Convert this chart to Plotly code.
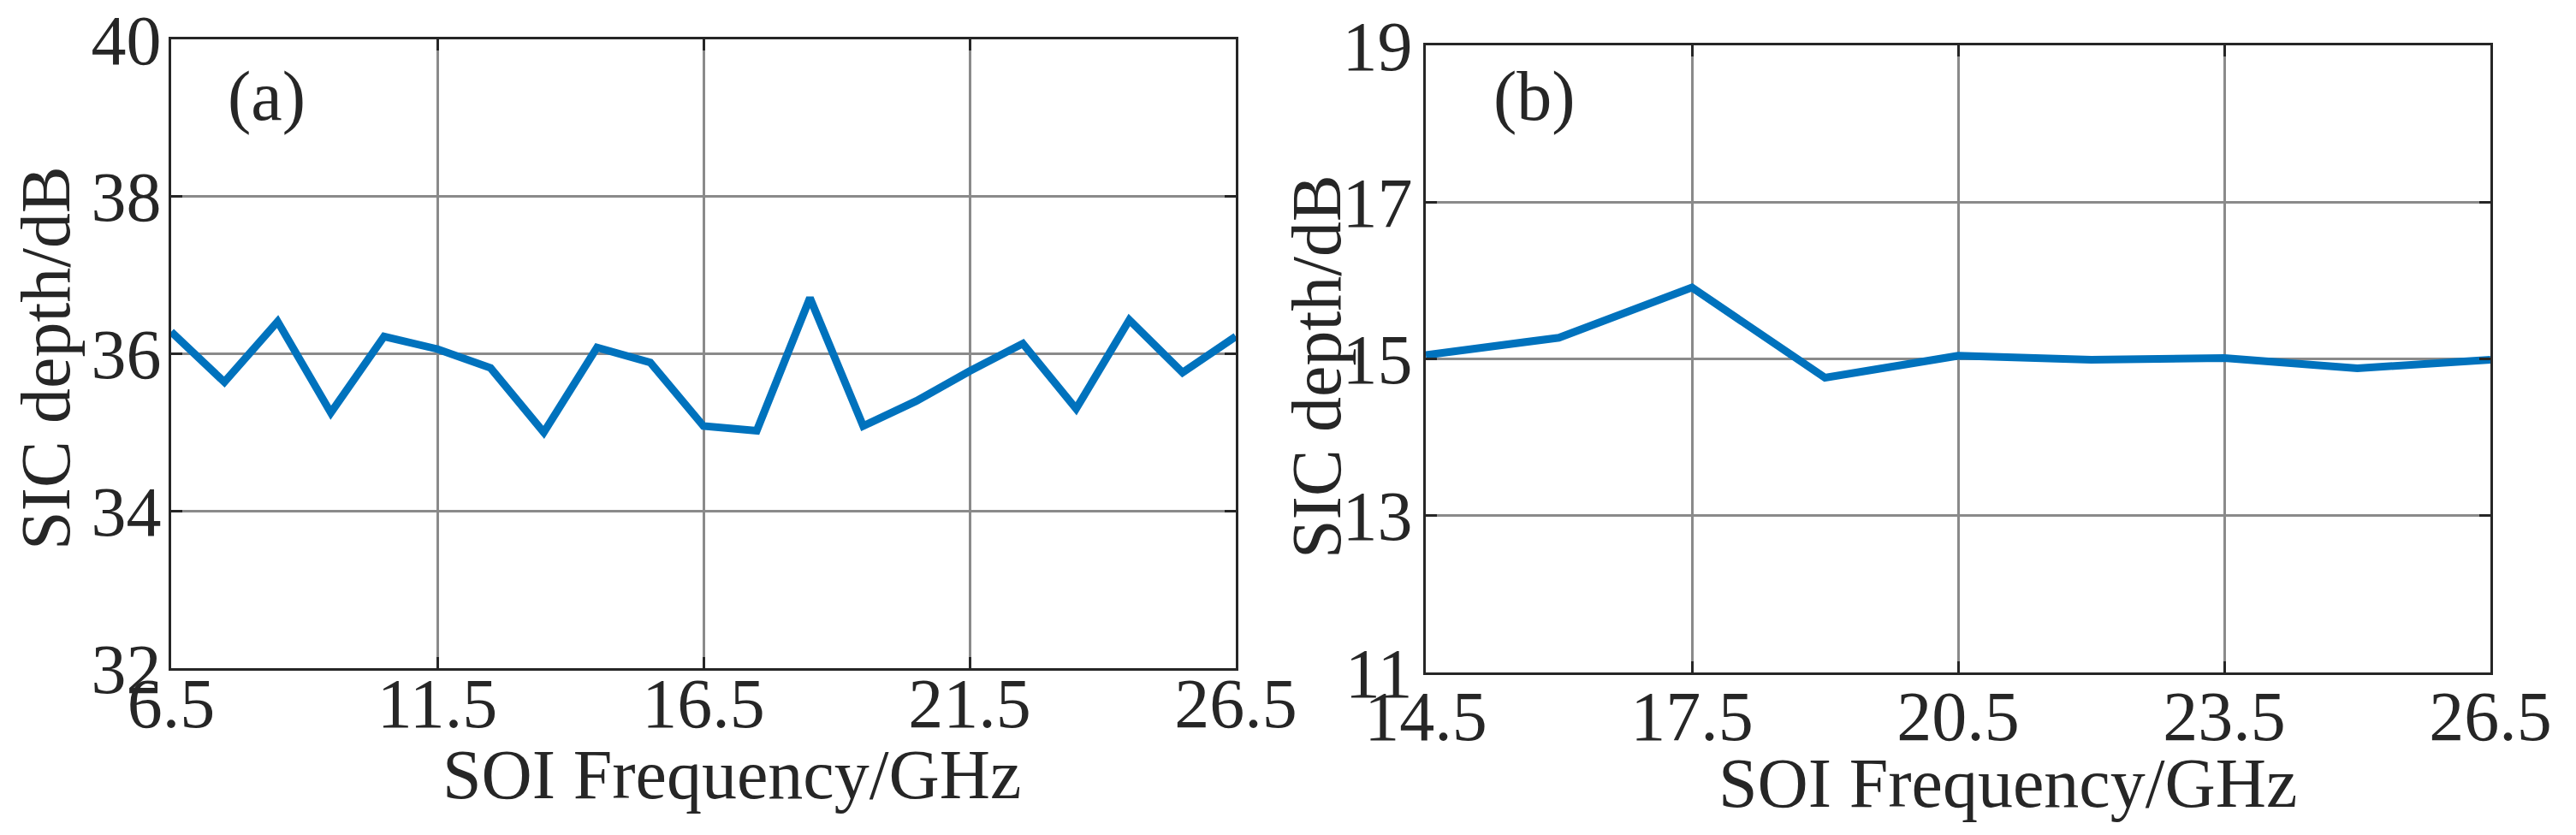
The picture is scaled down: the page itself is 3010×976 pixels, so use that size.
import plotly.graph_objects as go

# ---- data ----
freq_a = [6.5, 7.5, 8.5, 9.5, 10.5, 11.5, 12.5, 13.5, 14.5, 15.5, 16.5,
          17.5, 18.5, 19.5, 20.5, 21.5, 22.5, 23.5, 24.5, 25.5, 26.5]
sic_a = [36.28, 35.64, 36.41, 35.25, 36.22, 36.06, 35.82, 35.00, 36.08, 35.89, 35.08,
         35.02, 36.71, 35.08, 35.40, 35.78, 36.13, 35.30, 36.43, 35.76, 36.22]

freq_b = [14.5, 16.0, 17.5, 19.0, 20.5, 22.0, 23.5, 25.0, 26.5]
sic_b = [15.05, 15.27, 15.91, 14.76, 15.04, 14.99, 15.01, 14.88, 14.99]

xticks_a = [6.5, 11.5, 16.5, 21.5, 26.5]
xticks_b = [14.5, 17.5, 20.5, 23.5, 26.5]
yticks_a = [32, 34, 36, 38, 40]
yticks_b = [11, 13, 15, 17, 19]

panel_labels = ["(a)", "(b)"]
x_title = "SOI Frequency/GHz"
y_title = "SIC depth/dB"

W, H = 3010, 976
FONT = "Liberation Serif"
TXT = "#262626"
LINE = "#0072BD"

fig = go.Figure()
fig.add_trace(go.Scatter(x=freq_a, y=sic_a, mode="lines", xaxis="x", yaxis="y",
                         line=dict(color=LINE, width=9), showlegend=False))
fig.add_trace(go.Scatter(x=freq_b, y=sic_b, mode="lines", xaxis="x2", yaxis="y2",
                         line=dict(color=LINE, width=9), showlegend=False))

def px_x(p):
    return p / W

def px_y(p):
    return 1 - p / H

common = dict(showline=True, linecolor=TXT, linewidth=3, mirror="ticks",
              ticks="inside", ticklen=13, tickwidth=3, tickcolor=TXT,
              showgrid=True, gridcolor="#8a8a8a", gridwidth=3, zeroline=False,
              automargin=False, ticklabeloverflow="allow",
              tickfont=dict(family=FONT, size=82, color=TXT))

fig.update_layout(
    width=W, height=H, margin=dict(l=0, r=0, t=0, b=0),
    paper_bgcolor="white", plot_bgcolor="white",
    xaxis=dict(domain=[px_x(192), px_x(1436)], range=[6.5, 26.5],
               tickvals=xticks_a, ticktext=[f"{v:g}" for v in xticks_a],
               anchor="y", ticklabelstandoff=-32, **common),
    yaxis=dict(domain=[px_y(773), px_y(38)], range=[32, 40],
               tickvals=yticks_a, ticktext=[f"{v:g}" for v in yticks_a],
               anchor="x", ticklabelstandoff=-8, **common),
    xaxis2=dict(domain=[px_x(1658), px_x(2902)], range=[14.5, 26.5],
                tickvals=xticks_b, ticktext=[f"{v:g}" for v in xticks_b],
                anchor="y2", ticklabelstandoff=-22, **common),
    yaxis2=dict(domain=[px_y(778), px_y(45)], range=[11, 19],
                tickvals=yticks_b, ticktext=[f"{v:g}" for v in yticks_b],
                anchor="x2", ticklabelstandoff=-4, **common),
)

ann_font = dict(family=FONT, size=82, color=TXT)
anns = [
    dict(text=panel_labels[0], x=px_x(303), y=px_y(104)),
    dict(text=panel_labels[1], x=px_x(1785), y=px_y(104)),
    dict(text=x_title, x=px_x(847), y=px_y(897)),
    dict(text=x_title, x=px_x(2338), y=px_y(907)),
    dict(text=y_title, x=px_x(45), y=px_y(411), textangle=-90),
    dict(text=y_title, x=px_x(1530), y=px_y(421), textangle=-90),
]
for a in anns:
    fig.add_annotation(xref="paper", yref="paper", showarrow=False,
                       xanchor="center", yanchor="middle", font=ann_font, **a)

fig.write_html("out.html")
